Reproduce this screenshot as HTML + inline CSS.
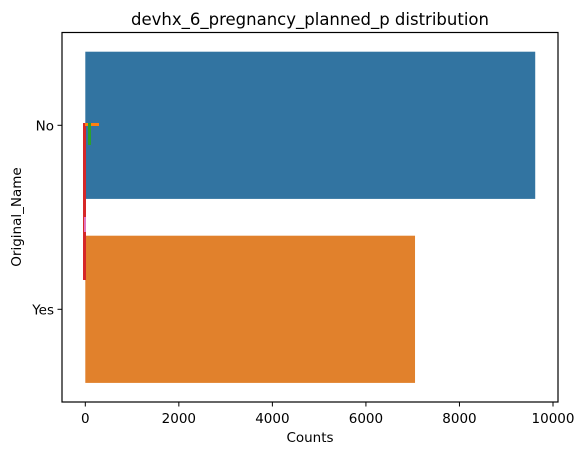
<!DOCTYPE html>
<html><head><meta charset="utf-8"><style>
body{margin:0;background:#fff;}
svg{display:block;font-family:"DejaVu Sans","Liberation Sans",sans-serif;}
</style></head><body>
<svg id="chart" width="585" height="455" xmlns="http://www.w3.org/2000/svg">
<text x="310" y="25" font-size="16.5" text-anchor="middle" fill="#000">devhx_6_pregnancy_planned_p distribution</text>
<g id="plot"></g>
<rect x="62" y="32.5" width="496" height="369.5" fill="none" stroke="#000" stroke-width="1.2"/>
<text x="310" y="442" font-size="13.5" text-anchor="middle">Counts</text>
<text x="21" y="217" font-size="13.5" text-anchor="middle" transform="rotate(-90 21 217)">Original_Name</text>
</svg>
<script>
const categories = ["No", "Yes"];
const counts = [9620, 7050];
const xTicks = [0, 2000, 4000, 6000, 8000, 10000];
const barColors = ["#3274a1", "#e1812c"];

const NS = "http://www.w3.org/2000/svg";
const g = document.getElementById("plot");
const x = v => 85.3 + v * 0.04677;
const yCenter = i => 125.3 + i * 184;
const bandH = 184 * 0.8;
function mk(tag, attrs){const e=document.createElementNS(NS,tag);for(const k in attrs)e.setAttribute(k,attrs[k]);g.appendChild(e);return e;}

categories.forEach((c,i)=>{
  const r = mk("rect",{x:x(0),y:yCenter(i)-bandH/2,width:x(counts[i])-x(0),height:bandH,fill:barColors[i]});
  
  
  const t = mk("line",{x1:57.5,x2:62,y1:yCenter(i),y2:yCenter(i),stroke:"#000","stroke-width":1});
  
  
  const l = mk("text",{x:54,y:yCenter(i)+5,"font-size":13.5,"text-anchor":"end"});
  l.textContent = c;
  
  
});

xTicks.forEach(v=>{
  const t = mk("line",{x1:x(v),x2:x(v),y1:402,y2:406.5,stroke:"#000","stroke-width":1});
  
  
  const l = mk("text",{x:x(v),y:423,"font-size":13.5,"text-anchor":"middle"});
  l.textContent = v;
  
  
});

const art = [
  {x:83,y:123,w:3,h:157,c:"#d62728"},
  {x:84,y:217,w:2,h:15,c:"#e377c2"},
  {x:85,y:123,w:14,h:3,c:"#ff7f0e"},
  {x:88,y:123,w:3,h:22,c:"#2ca02c"}
];
art.forEach(a=>{
  const r = mk("rect",{x:a.x,y:a.y,width:a.w,height:a.h,fill:a.c});
  
  
});
</script>
</body></html>
